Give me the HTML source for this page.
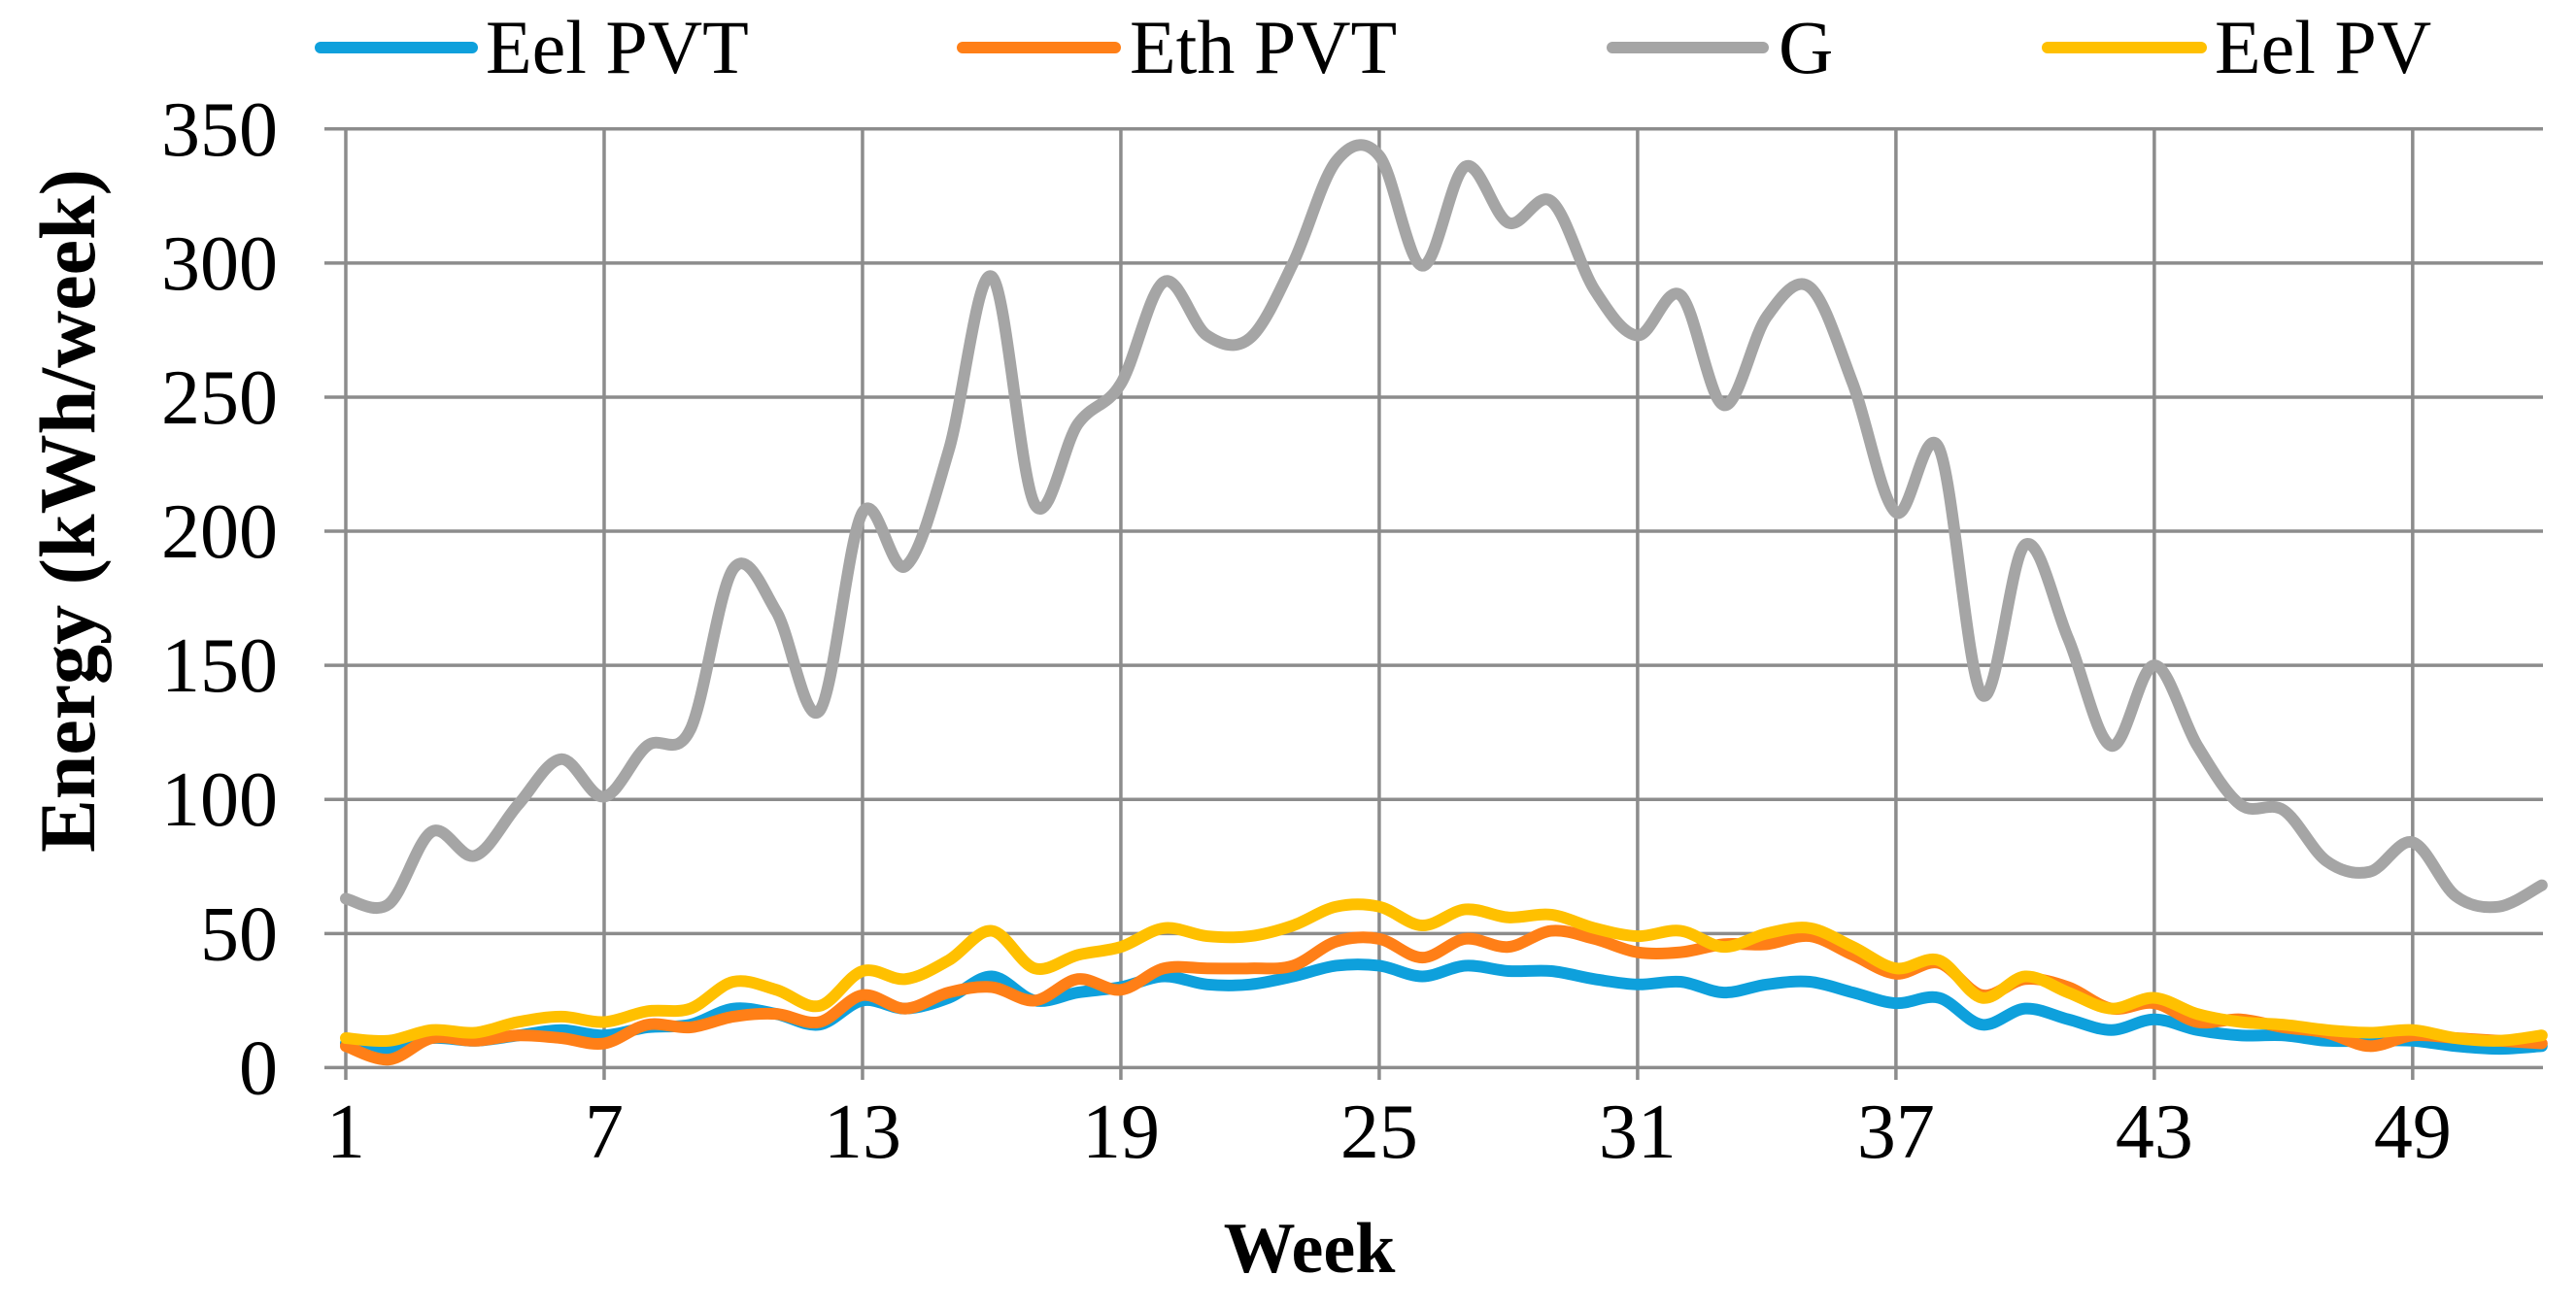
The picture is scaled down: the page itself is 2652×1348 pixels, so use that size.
<!DOCTYPE html>
<html><head><meta charset="utf-8"><style>
html,body{margin:0;padding:0;background:#fff;}
svg{display:block;font-family:"Liberation Serif",serif;}
</style></head><body>
<svg id="chart" width="2652" height="1348" viewBox="0 0 2652 1348" xmlns="http://www.w3.org/2000/svg">
<g id="grid"></g>
<g id="axes"></g>
<g id="series"></g>
<g id="legend"></g>
<text x="0" y="0" transform="translate(97,526) rotate(-90)" text-anchor="middle" font-size="82" font-weight="bold">Energy (kWh/week)</text>
<text x="1348" y="1310" text-anchor="middle" font-size="74" font-weight="bold">Week</text>
</svg>
<script>
const weeks = Array.from({length:52},(_,i)=>i+1);
const xTicks = [1,7,13,19,25,31,37,43,49];
const yTicks = [0,50,100,150,200,250,300,350];
const seriesNames = ["Eel PVT","Eth PVT","G","Eel PV"];
const eelPVT = [9,7,11,10,12,14,12,15,16,22,20,16,25,22,26,34,25,28,30,34,31,31,34,38,38,34,38,36,36,33,31,32,28,31,32,28,24,26,16,22,18,14,18,14,12,12,10,10,10,8,7,8];
const ethPVT = [8,3,11,10,12,11,9,16,15,19,20,17,27,22,28,30,25,33,29,37,37,37,38,47,48,41,48,45,51,48,43,43,46,46,49,42,35,39,27,33,30,22,24,17,18,15,13,8,12,11,10,9];
const gIrr = [63,61,88,79,98,115,101,120,126,186,170,133,207,187,230,295,210,240,255,293,273,272,300,338,340,299,336,315,323,290,273,288,247,280,291,255,207,231,139,195,160,120,150,120,98,96,77,73,84,64,60,68];
const eelPV = [11,10,14,13,17,19,17,21,22,32,29,23,36,33,40,51,37,42,45,52,49,49,53,60,60,53,59,56,57,52,49,51,45,50,52,45,37,40,26,34,28,22,26,20,17,16,14,13,14,11,10,12];
const NS="http://www.w3.org/2000/svg";
const X=w=>356+(w-1)*44.33;
const Y=v=>1099.4-v*(966.6/350);
function mk(t,a,p){const e=document.createElementNS(NS,t);for(const k in a)e.setAttribute(k,a[k]);p.appendChild(e);return e;}
const grid=document.getElementById('grid'),axes=document.getElementById('axes'),ser=document.getElementById('series'),leg=document.getElementById('legend');
yTicks.forEach(v=>{
  const l=mk('line',{x1:334,x2:2618,y1:Y(v),y2:Y(v),stroke:'#8c8c8c','stroke-width':3.5},grid);
  
  
  const t=mk('text',{x:286,y:Y(v)+27,'text-anchor':'end','font-size':80},axes);
  t.textContent=v;
  
  
});
xTicks.forEach(w=>{
  const l=mk('line',{x1:X(w),x2:X(w),y1:Y(350),y2:1112,stroke:'#8c8c8c','stroke-width':3.5},grid);
  
  
  const t=mk('text',{x:X(w),y:1192,'text-anchor':'middle','font-size':80},axes);
  t.textContent=w;
  
  
});
function smooth(vals){
  const p=vals.map((v,i)=>[X(weeks[i]),Y(v)]);
  let d='M'+p[0][0]+','+p[0][1];
  for(let i=0;i<p.length-1;i++){
    const p0=p[i-1]||p[i],p1=p[i],p2=p[i+1],p3=p[i+2]||p2;
    const c1=[p1[0]+(p2[0]-p0[0])/6,p1[1]+(p2[1]-p0[1])/6];
    const c2=[p2[0]-(p3[0]-p1[0])/6,p2[1]-(p3[1]-p1[1])/6];
    d+=' C'+c1+' '+c2+' '+p2;
  }
  return d;
}
const colors=['#0ea0dc','#ff7f17','#a5a5a5','#ffc000'];
const datasets=[eelPVT,ethPVT,gIrr,eelPV];
const names=['line-eel-pvt','line-eth-pvt','line-g','line-eel-pv'];
datasets.forEach((ds,i)=>{
  const p=mk('path',{d:smooth(ds),fill:'none',stroke:colors[i],'stroke-width':12,'stroke-linejoin':'round','stroke-linecap':'round'},ser);
  
  
});
const legX=[[330,486,500],[991,1148,1163],[1660,1815,1831],[2108,2266,2280]];
const legNames=['legend-eel-pvt','legend-eth-pvt','legend-g','legend-eel-pv'];
seriesNames.forEach((n,i)=>{
  const g=mk('g',{},leg);
  
  
  mk('line',{x1:legX[i][0],x2:legX[i][1],y1:49,y2:49,stroke:colors[i],'stroke-width':12,'stroke-linecap':'round'},g);
  const t=mk('text',{x:legX[i][2],y:75,'font-size':78},g);
  t.textContent=n;
});
</script>
</body></html>
